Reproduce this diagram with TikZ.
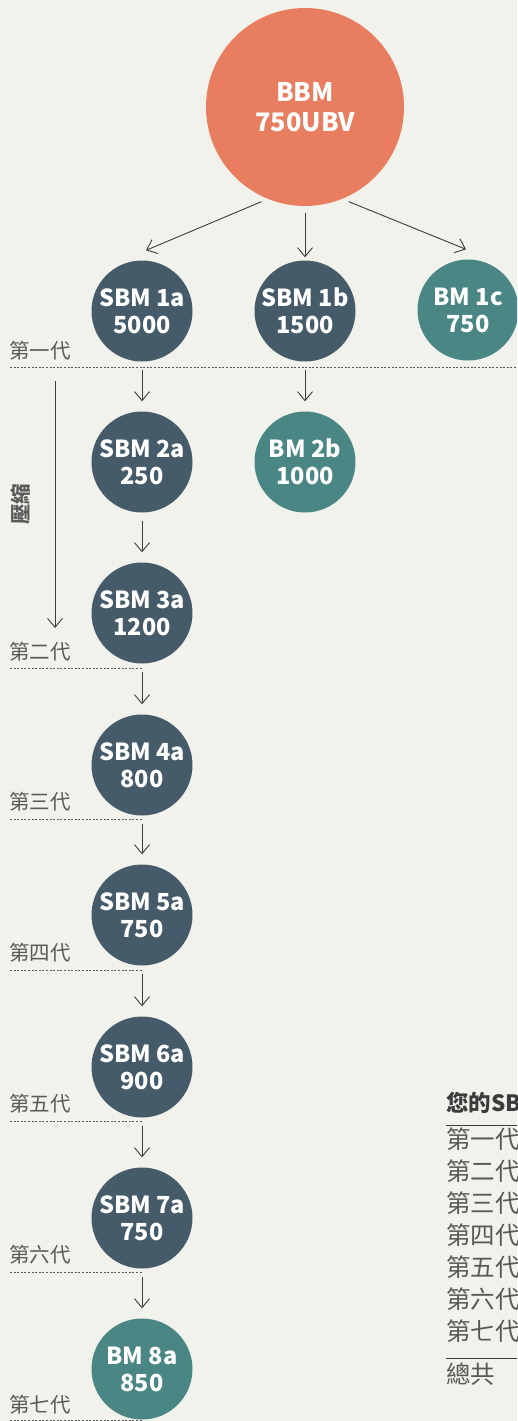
\documentclass[tikz,border=0pt]{standalone}
\usepackage{fontspec}
\setmainfont{Noto Sans CJK TC}
\usetikzlibrary{arrows.meta}
\definecolor{bgc}{HTML}{F2F2EC}
\definecolor{orng}{HTML}{E87D5F}
\definecolor{slate}{HTML}{455B69}
\definecolor{teal}{HTML}{4A8784}
\definecolor{txtgray}{HTML}{595959}
\definecolor{linec}{HTML}{3C3C3C}
\tikzset{
  bub/.style={circle, minimum size=101pt, inner sep=0pt, text=white, align=center,
    font=\bfseries\fontsize{23.5}{27}\selectfont},
  dk/.style={bub, fill=slate},
  tl/.style={bub, fill=teal},
  big/.style={circle, minimum size=198pt, inner sep=0pt, fill=orng, text=white, align=center,
    font=\bfseries\fontsize{25.5}{30}\selectfont},
  arr/.style={draw=linec, line width=0.9pt, -{Straight Barb[length=9pt,width=15pt,line width=0.9pt]}},
  col/.style={arr, shorten <=8pt, shorten >=10pt},
  dsh/.style={draw=txtgray, line width=0.9pt, dash pattern=on 2pt off 1.6pt},
  gen/.style={anchor=west, inner sep=0pt, text=txtgray, font=\fontsize{20.5}{22}\selectfont},
  tab/.style={anchor=west, inner sep=0pt, text=txtgray, font=\fontsize{24.5}{26}\selectfont},
  tabline/.style={draw=linec, line width=1pt}
}
\begin{document}
\begin{tikzpicture}[x=1pt,y=-1pt]
\fill[bgc] (0,0) rectangle (517,1421);
\useasboundingbox (0,0) rectangle (517,1421);
\clip (0,0) rectangle (517,1421);

% nodes
\node[big] (top) at (305,107) {BBM\\750UBV};
\node[dk] (a1) at (142,311) {SBM 1a\\5000};
\node[dk] (b1) at (305,311) {SBM 1b\\1500};
\node[tl] (c1) at (468,310) {BM 1c\\750};
\node[dk] (a2) at (142,462) {SBM 2a\\250};
\node[tl] (b2) at (305,462) {BM 2b\\1000};
\node[dk] (a3) at (142,613) {SBM 3a\\1200};
\node[dk] (a4) at (142,765) {SBM 4a\\800};
\node[dk] (a5) at (142,915) {SBM 5a\\750};
\node[dk] (a6) at (142,1067) {SBM 6a\\900};
\node[dk] (a7) at (142,1218) {SBM 7a\\750};
\node[tl] (a8) at (142,1369) {BM 8a\\850};

% top arrows
\draw[arr, shorten <=7pt] (top.-112) -- ([shift={(4pt,10pt)}]a1.north);
\draw[arr, shorten <=7pt, shorten >=3pt] (top.south) -- (b1.north);
\draw[arr, shorten <=7pt] (top.-68) -- ([shift={(-2pt,10pt)}]c1.north);

% column arrows
\draw[col] (a1.south) -- (a2.north);
\draw[col] (b1.south) -- (b2.north);
\draw[col] (a2.south) -- (a3.north);
\draw[col] (a3.south) -- (a4.north);
\draw[col] (a4.south) -- (a5.north);
\draw[col] (a5.south) -- (a6.north);
\draw[col] (a6.south) -- (a7.north);
\draw[col] (a7.south) -- (a8.north);

% generation separators
\draw[dsh] (10,367) -- (517,367);
\foreach \yy in {668,819,970,1121,1272,1420} {\draw[dsh] (10,\yy) -- (143,\yy);}
\node[gen] (g1) at (9,351) {第一代};
\node[gen] (g2) at (9,652) {第二代};
\node[gen] (g3) at (9,802) {第三代};
\node[gen] (g4) at (9,953) {第四代};
\node[gen] (g5) at (9,1104) {第五代};
\node[gen] (g6) at (9,1255) {第六代};
\node[gen] (g7) at (9,1405) {第七代};

% compression arrow
\coordinate (cs) at (55,381);
\coordinate (ce) at (55,628);
\draw[arr] (cs) -- (ce);
\node[rotate=90, inner sep=0pt, text=txtgray, font=\bfseries\fontsize{20.5}{22}\selectfont] (comp) at (21,504) {壓縮};

% table
\node[anchor=west, inner sep=0pt, text=linec, font=\bfseries\fontsize{22.5}{25}\selectfont] (th) at (446,1103) {您的SB};
\draw[tabline] (446,1125) -- (517,1125);
\node[tab] (t1) at (446,1139) {第一代};
\node[tab] (t2) at (446,1171) {第二代};
\node[tab] (t3) at (446,1203) {第三代};
\node[tab] (t4) at (446,1235) {第四代};
\node[tab] (t5) at (446,1267) {第五代};
\node[tab] (t6) at (446,1299) {第六代};
\node[tab] (t7) at (446,1331) {第七代};
\draw[tabline] (446,1358) -- (517,1358);
\node[tab] (tt) at (446,1374) {總共};
\end{tikzpicture}
\end{document}
